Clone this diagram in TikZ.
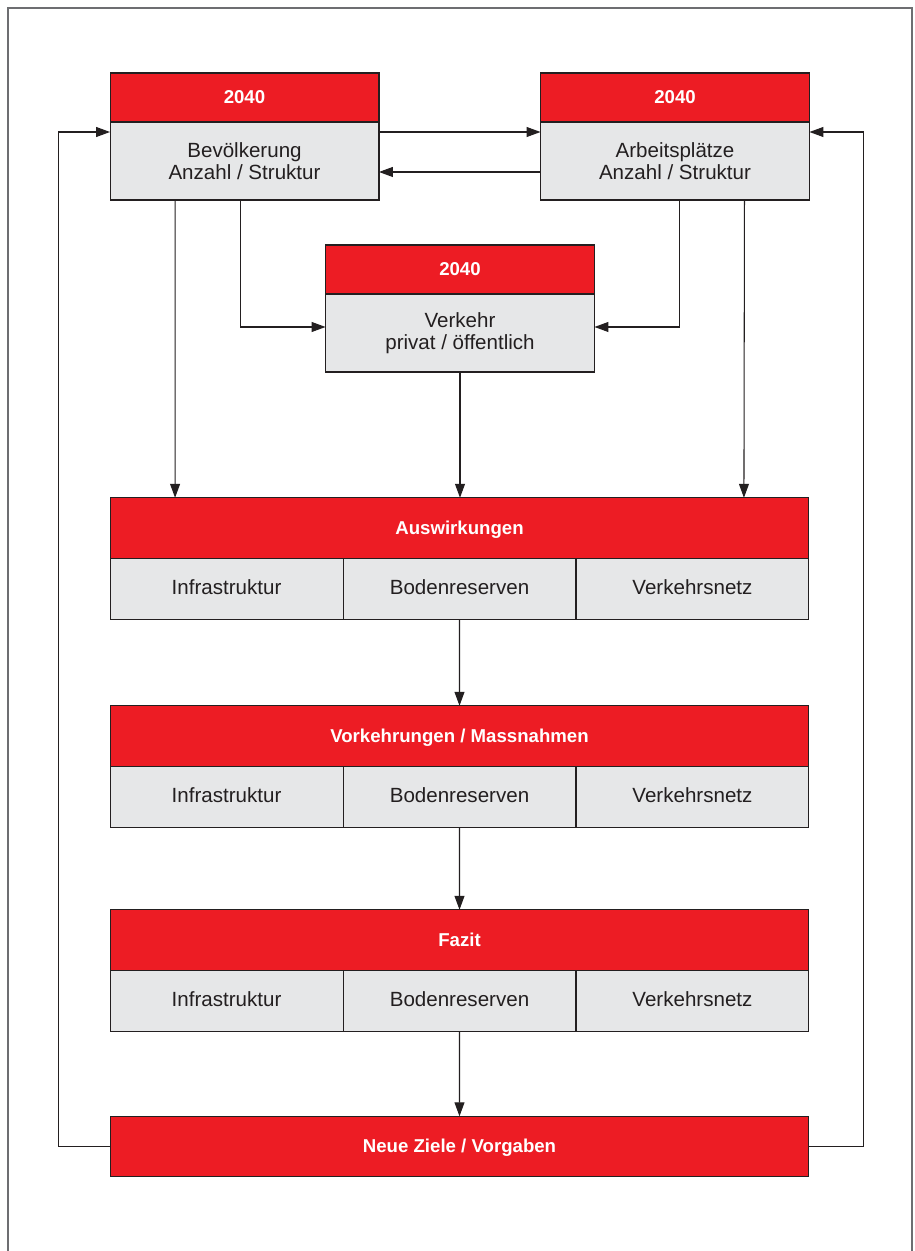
\documentclass[tikz,border=0pt]{standalone}
\usepackage{fontspec}
\setmainfont{Liberation Sans}
\usetikzlibrary{positioning,arrows.meta,calc}
\definecolor{planred}{HTML}{ED1C24}
\definecolor{plangray}{HTML}{E6E7E8}
\definecolor{planink}{HTML}{231F20}
\definecolor{planframe}{HTML}{6D6E71}
\tikzset{
  head/.style ={draw=planink,fill=planred,line width=0.6pt,outer sep=0pt,inner sep=0pt,text=white,font=\fontsize{10.6}{12}\selectfont\bfseries,text height=1.3ex,text depth=0pt,minimum width=5.38cm,minimum height=0.98cm},
  body/.style ={head,fill=plangray,text=planink,font=\fontsize{11.7}{12.5}\selectfont,align=center,text height=,text depth=,minimum height=1.56cm},
  wide/.style ={head,minimum width=13.98cm,minimum height=1.21cm},
  cell/.style ={body,text height=1.3ex,text depth=0pt,minimum width=4.66cm,minimum height=1.22cm},
  arr/.style  ={-{Triangle[length=2.8mm,width=2mm]},line width=0.6pt,draw=planink},
  frame/.style={line width=1pt,draw=planframe},
}
\begin{document}
\begin{tikzpicture}[x=0.02cm,y=-0.02cm]
  \useasboundingbox (0,0) rectangle (915,1251);
  \draw[frame] (8,1251) |- (912,8) -- (912,1251);

  % the three 2040 boxes
  \node[head] (bevh) at (244.5,97.5) {2040};
  \node[body, below=0pt of bevh] (bev) {Bevölkerung\\Anzahl / Struktur};
  \node[head] (arbh) at (675,97.5) {2040};
  \node[body, below=0pt of arbh] (arb) {Arbeitsplätze\\Anzahl / Struktur};
  \node[head] (verh) at (460,269.5) {2040};
  \node[body, below=0pt of verh] (ver) {Verkehr\\privat / öffentlich};

  % wide blocks
  \node[wide] (ausw) at (459.5,528) {Auswirkungen};
  \node[cell, anchor=north west] (aus1) at (ausw.south west) {Infrastruktur};
  \node[cell, right=0pt of aus1] (aus2) {Bodenreserven};
  \node[cell, right=0pt of aus2] (aus3) {Verkehrsnetz};

  \node[wide] (vork) at (459.5,736) {Vorkehrungen / Massnahmen};
  \node[cell, anchor=north west] (vor1) at (vork.south west) {Infrastruktur};
  \node[cell, right=0pt of vor1] (vor2) {Bodenreserven};
  \node[cell, right=0pt of vor2] (vor3) {Verkehrsnetz};

  \node[wide] (fazi) at (459.5,940) {Fazit};
  \node[cell, anchor=north west] (faz1) at (fazi.south west) {Infrastruktur};
  \node[cell, right=0pt of faz1] (faz2) {Bodenreserven};
  \node[cell, right=0pt of faz2] (faz3) {Verkehrsnetz};

  \node[wide] (ziel) at (459.5,1146.5) {Neue Ziele / Vorgaben};

  % connectors
  \draw[arr] ($(bev.north east)+(0,10)$) -- ($(arb.north west)+(0,10)$);
  \draw[arr] ($(arb.south west)+(0,-28)$) -- ($(bev.south east)+(0,-28)$);
  \draw[arr] ($(bev.south west)+(65,0)$) -- ($(ausw.north west)+(65,0)$);
  \draw[arr] ($(bev.south west)+(130,0)$) |- ($(ver.west)+(0,-6)$);
  \draw[arr] ($(arb.south west)+(139,0)$) |- ($(ver.east)+(0,-6)$);
  \draw[arr] ($(arb.south east)+(-65,0)$) -- ($(ausw.north east)+(-65,0)$);
  \draw[arr] (ver.south) -- (ver.south |- ausw.north);
  \draw[arr] (aus2.south) -- (vork.north);
  \draw[arr] (vor2.south) -- (fazi.north);
  \draw[arr] (faz2.south) -- (ziel.north);
  \draw[arr] (ziel.west) -- ++(-52,0) |- ($(bev.north west)+(0,10)$);
  \draw[arr] (ziel.east) -- ++(55,0) |- ($(arb.north east)+(0,10)$);
\end{tikzpicture}
\end{document}
